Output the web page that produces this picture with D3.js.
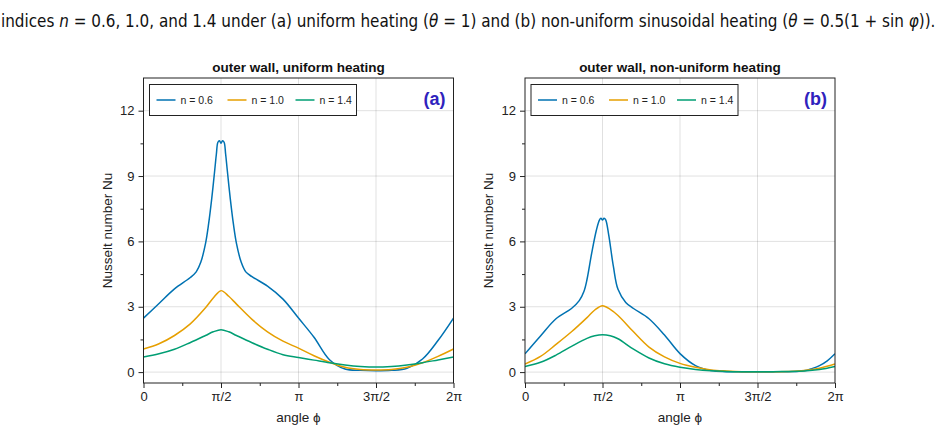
<!DOCTYPE html>
<html>
  <head>
    <meta charset="UTF-8">
    <title>Nusselt number, outer wall</title>
    <script src="https://d3js.org/d3.v7.min.js"></script>
    <style>
      body { margin: 0; background: #fff; }
      text { font-family: "Liberation Sans", Arial, sans-serif; }
    </style>
  </head>
  <body>
    <div id="chart-container"></div>
  <script type="text/javascript">

    // angle in units of pi, Nusselt number Nu
    const uniformN06 = [[0,2.48],[0.1,3.15],[0.2,3.82],[0.3,4.33],[0.34,4.6],[0.37,5.05],[0.4,5.9],[0.42,6.8],[0.44,7.95],
        [0.46,9.3],[0.47,10.0],[0.48,10.55],[0.49,10.62],[0.5,10.5],[0.51,10.62],[0.52,10.55],[0.53,10.0],[0.54,9.3],
        [0.56,7.95],[0.58,6.8],[0.6,5.9],[0.63,5.05],[0.66,4.6],[0.7,4.38],[0.8,3.95],[0.9,3.35],[1.0,2.48],[1.1,1.6],
        [1.2,0.57],[1.3,0.14],[1.4,0.08],[1.5,0.06],[1.6,0.08],[1.7,0.18],[1.8,0.6],[1.9,1.45],[2.0,2.48]];
    const uniformN10 = [[0,1.06],[0.1,1.3],[0.2,1.68],[0.3,2.2],[0.4,2.95],[0.45,3.4],[0.5,3.74],[0.55,3.48],[0.6,3.12],
        [0.7,2.42],[0.8,1.85],[0.9,1.42],[1.0,1.1],[1.1,0.75],[1.2,0.45],[1.3,0.22],[1.4,0.12],[1.5,0.1],[1.6,0.12],
        [1.7,0.22],[1.8,0.43],[1.9,0.72],[2.0,1.06]];
    const uniformN14 = [[0,0.69],[0.1,0.84],[0.2,1.05],[0.3,1.35],[0.4,1.68],[0.45,1.85],[0.5,1.95],[0.55,1.85],[0.6,1.68],
        [0.7,1.35],[0.8,1.05],[0.9,0.8],[1.0,0.67],[1.1,0.55],[1.2,0.43],[1.3,0.33],[1.4,0.26],[1.5,0.23],[1.6,0.26],
        [1.7,0.33],[1.8,0.43],[1.9,0.56],[2.0,0.69]];

    const sinusN06 = [[0,0.84],[0.1,1.66],[0.2,2.45],[0.3,2.92],[0.35,3.28],[0.38,3.7],[0.4,4.25],[0.43,5.45],[0.46,6.5],
        [0.48,6.98],[0.49,7.06],[0.5,6.98],[0.51,7.06],[0.52,7.0],[0.54,6.3],[0.57,4.86],[0.6,3.8],[0.65,3.2],[0.7,2.92],
        [0.8,2.45],[0.9,1.7],[1.0,0.85],[1.1,0.3],[1.2,0.07],[1.3,0.02],[1.4,0.01],[1.5,0.01],[1.6,0.01],[1.7,0.02],
        [1.8,0.06],[1.85,0.16],[1.9,0.3],[1.95,0.52],[2.0,0.84]];
    const sinusN10 = [[0,0.37],[0.1,0.72],[0.2,1.27],[0.3,1.85],[0.4,2.5],[0.45,2.85],[0.5,3.05],[0.55,2.88],[0.6,2.6],
        [0.7,1.85],[0.8,1.15],[0.9,0.7],[1.0,0.4],[1.1,0.22],[1.2,0.1],[1.3,0.05],[1.4,0.02],[1.5,0.02],[1.6,0.02],
        [1.7,0.03],[1.8,0.07],[1.9,0.18],[2.0,0.37]];
    const sinusN14 = [[0,0.26],[0.1,0.45],[0.2,0.78],[0.3,1.18],[0.4,1.55],[0.45,1.67],[0.5,1.72],[0.55,1.67],[0.6,1.53],
        [0.7,1.05],[0.8,0.65],[0.9,0.38],[1.0,0.22],[1.1,0.12],[1.2,0.06],[1.3,0.03],[1.4,0.02],[1.5,0.02],[1.6,0.02],
        [1.7,0.03],[1.8,0.05],[1.9,0.12],[2.0,0.26]];

    const seriesNames = ["n = 0.6", "n = 1.0", "n = 1.4"];
    const seriesColors = ["#0072b2", "#e69f00", "#009e73"];

    const xTicks = [0, 0.5, 1, 1.5, 2];          // units of pi
    const xTickLabels = ["0", "π/2", "π", "3π/2", "2π"];
    const xMinor = [0.25, 0.75, 1.25, 1.75];
    const yTicks = [0, 3, 6, 9, 12];
    const yMinor = [1.5, 4.5, 7.5, 10.5];

    const panels = [
        {title: "outer wall, uniform heating", tag: "(a)", left: 143.5, series: [uniformN06, uniformN10, uniformN14]},
        {title: "outer wall, non-uniform heating", tag: "(b)", left: 525, series: [sinusN06, sinusN10, sinusN14]}
    ];

    const width = 943, height = 433;
    const plotW = 310, plotTop = 78, plotBottom = 383;
    const ink = "#222";

    const svg = d3.select("#chart-container")
        .append("svg")
        .attr("width", width)
        .attr("height", height)
        .attr("viewBox", `0 0 ${width} ${height}`);

    // caption line from the paper, squeezed horizontally to span the page
    const capG = svg.append("g");
    const cap = capG.append("text")
        .attr("x", 0).attr("y", 0)
        .style("font-family", '"DejaVu Sans Condensed", "Liberation Sans Narrow", sans-serif')
        .style("font-size", "18px").attr("fill", "#111");
    cap.append("tspan").text("indices ");
    cap.append("tspan").attr("font-style", "italic").text("n");
    cap.append("tspan").text(" = 0.6, 1.0, and 1.4 under (a) uniform heating (");
    cap.append("tspan").attr("font-style", "italic").text("θ");
    cap.append("tspan").text(" = 1) and (b) non-uniform sinusoidal heating (");
    cap.append("tspan").attr("font-style", "italic").text("θ");
    cap.append("tspan").text(" = 0.5(1 + sin ");
    cap.append("tspan").attr("font-style", "italic").text("φ");
    cap.append("tspan").text(")).");
    const capW = cap.node().getComputedTextLength();
    capG.attr("transform", `translate(1,27) scale(${935 / capW},1)`);

    panels.forEach((p, k) => {
        const x = d3.scaleLinear().domain([0, 2]).range([p.left, p.left + plotW]);
        const y = d3.scaleLinear().domain([-0.5, 13.5]).range([plotBottom, plotTop]);
        const g = svg.append("g");

        // grid
        g.append("g").selectAll("line").data(xTicks.slice(1, -1)).join("line")
            .attr("x1", d => x(d)).attr("x2", d => x(d)).attr("y1", plotTop).attr("y2", plotBottom)
            .attr("stroke", "#000").attr("stroke-opacity", 0.12);
        g.append("g").selectAll("line").data(yTicks).join("line")
            .attr("x1", x(0)).attr("x2", x(2)).attr("y1", d => y(d)).attr("y2", d => y(d))
            .attr("stroke", "#000").attr("stroke-opacity", 0.12);

        // curves
        const clipId = "clip" + k;
        g.append("clipPath").attr("id", clipId).append("rect")
            .attr("x", x(0)).attr("y", plotTop).attr("width", plotW).attr("height", plotBottom - plotTop);
        const line = d3.line().x(d => x(d[0])).y(d => y(d[1])).curve(d3.curveCatmullRom.alpha(0.5));
        g.append("g").attr("clip-path", `url(#${clipId})`)
            .selectAll("path").data(p.series).join("path")
            .attr("d", line)
            .attr("fill", "none")
            .attr("stroke", (d, i) => seriesColors[i])
            .attr("stroke-width", 1.5);

        // axes
        const xAxis = g.append("g").attr("transform", `translate(0,${plotBottom})`)
            .call(d3.axisBottom(x).tickValues(xTicks).tickFormat((d, i) => xTickLabels[i]).tickSize(5).tickPadding(4));
        const xMin = g.append("g").attr("transform", `translate(0,${plotBottom})`)
            .call(d3.axisBottom(x).tickValues(xMinor).tickFormat("").tickSize(3));
        const yAxis = g.append("g").attr("transform", `translate(${x(0)},0)`)
            .call(d3.axisLeft(y).tickValues(yTicks).tickSize(5).tickPadding(4));
        const yMin = g.append("g").attr("transform", `translate(${x(0)},0)`)
            .call(d3.axisLeft(y).tickValues(yMinor).tickFormat("").tickSize(3));
        [xAxis, xMin, yAxis, yMin].forEach(a => {
            a.select(".domain").remove();
            a.selectAll(".tick line").attr("stroke", ink);
            a.selectAll(".tick text").attr("fill", ink)
                .style("font-family", '"Liberation Sans", Arial, sans-serif').style("font-size", "13px");
        });

        // frame
        g.append("rect").attr("x", x(0)).attr("y", plotTop).attr("width", plotW).attr("height", plotBottom - plotTop)
            .attr("fill", "none").attr("stroke", ink).attr("stroke-width", 1);

        // labels
        g.append("text").attr("x", x(1)).attr("y", 72).attr("text-anchor", "middle")
            .style("font-size", "13.5px").style("font-weight", "bold").attr("fill", "#111").text(p.title);
        g.append("text").attr("x", x(1)).attr("y", 422).attr("text-anchor", "middle")
            .style("font-size", "13.5px").attr("fill", ink).text("angle ϕ");
        g.append("text").attr("transform", `translate(${x(0) - 32},${(plotTop + plotBottom) / 2}) rotate(-90)`)
            .attr("text-anchor", "middle").style("font-size", "13.5px").attr("fill", ink).text("Nusselt number Nu");
        g.append("text").attr("x", x(2) - 8).attr("y", 105).attr("text-anchor", "end")
            .style("font-size", "18px").style("font-weight", "bold").attr("fill", "#2f22bd").text(p.tag);

        // legend
        const lg = g.append("g").attr("transform", `translate(${x(0) + 6},84.5)`);
        lg.append("rect").attr("width", 207).attr("height", 31)
            .attr("fill", "#fff").attr("stroke", ink).attr("stroke-width", 1);
        const itemX = [7, 78, 146];
        seriesNames.forEach((name, i) => {
            lg.append("line").attr("x1", itemX[i]).attr("x2", itemX[i] + 19).attr("y1", 15.5).attr("y2", 15.5)
                .attr("stroke", seriesColors[i]).attr("stroke-width", 1.5);
            lg.append("text").attr("x", itemX[i] + 24).attr("y", 19)
                .style("font-size", "10.5px").attr("fill", ink).text(name);
        });
    });
  </script>
  </body>
</html>
